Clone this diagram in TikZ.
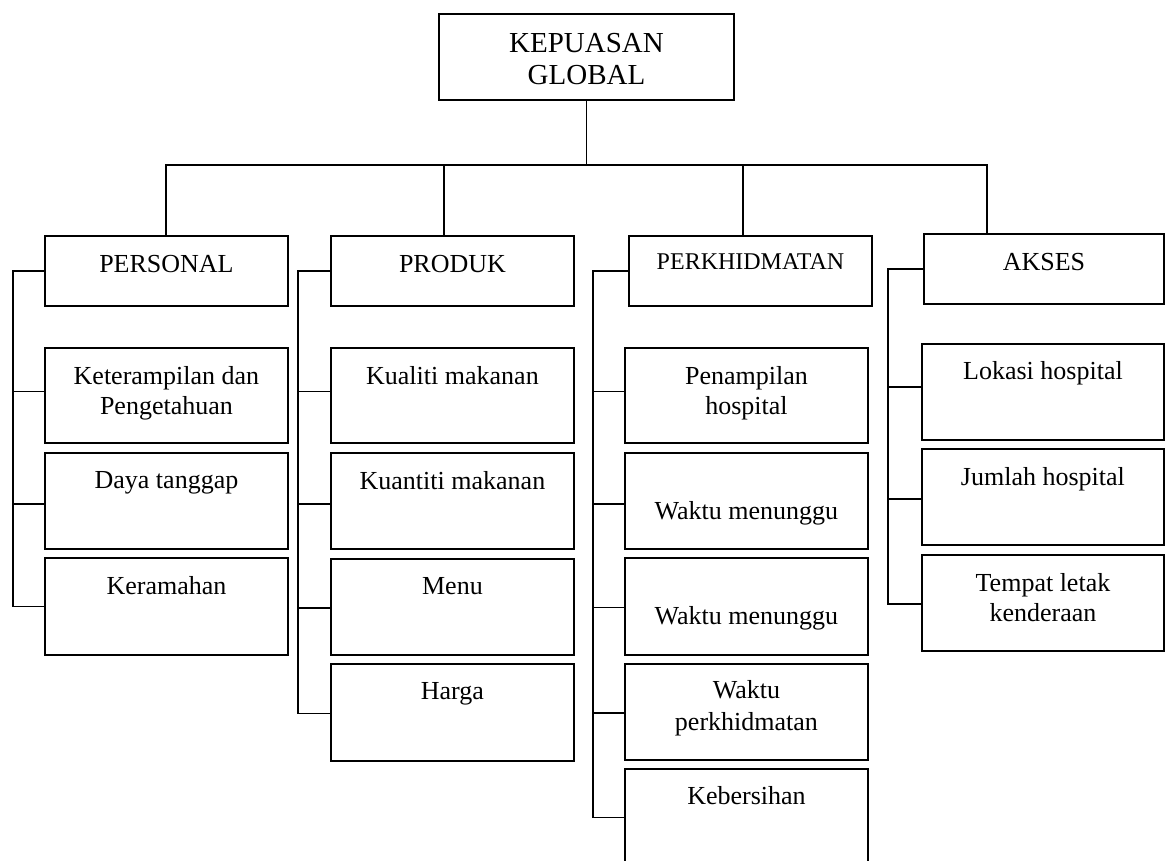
\documentclass[tikz,border=0pt]{standalone}
\usepackage{fontspec}
\setmainfont{Liberation Serif}
\begin{document}
\begin{tikzpicture}[x=1pt,y=-1pt,line width=1.9pt,
  box/.style={draw,rectangle,inner sep=0pt,anchor=north west,minimum width=243pt,minimum height=96pt},
  hdr/.style={box,minimum height=70pt},
  lbl/.style={anchor=north,inner sep=0pt,align=center,font=\fontsize{26}{30}\selectfont},
  wire/.style={line width=1.9pt,line cap=rect}]
\useasboundingbox (0,0) rectangle (1165,860);
\clip (0,0) rectangle (1165,860);

% root
\node[box,minimum width=295pt,minimum height=86pt] (top) at (438,13) {};
\node[lbl,font=\fontsize{29}{32}\selectfont] (t-top) at ([yshift=-19pt]top.north) {KEPUASAN\\GLOBAL};

% category boxes
\node[hdr] (personal) at (44,235) {};
\node[hdr] (produk) at (330,235) {};
\node[hdr] (perkh) at (628,235) {};
\node[hdr,minimum width=240pt] (akses) at (923,233) {};
\node[lbl] (t-personal) at ([yshift=-19.5pt]personal.north) {PERSONAL};
\node[lbl] (t-produk) at ([yshift=-19.5pt]produk.north) {PRODUK};
\node[lbl,font=\fontsize{24}{28}\selectfont] (t-perkh) at ([yshift=-18pt]perkh.north) {PERKHIDMATAN};
\node[lbl] (t-akses) at ([yshift=-19.5pt]akses.north) {AKSES};

% PERSONAL items
\node[box,minimum height=95pt] (p1) at (44,347) {};
\node[box] (p2) at (44,452) {};
\node[box,minimum height=97pt] (p3) at (44,557) {};
\node[lbl] (t-p1) at ([yshift=-18.5pt]p1.north) {Keterampilan dan\\Pengetahuan};
\node[lbl] (t-p2) at ([yshift=-18.5pt]p2.north) {Daya tanggap};
\node[lbl] (t-p3) at ([yshift=-18.5pt]p3.north) {Keramahan};

% PRODUK items
\node[box,minimum height=95pt] (q1) at (330,347) {};
\node[box] (q2) at (330,452) {};
\node[box] (q3) at (330,558) {};
\node[box,minimum height=97pt] (q4) at (330,663) {};
\node[lbl] (t-q1) at ([yshift=-18.5pt]q1.north) {Kualiti makanan};
\node[lbl] (t-q2) at ([yshift=-18.5pt]q2.north) {Kuantiti makanan};
\node[lbl] (t-q3) at ([yshift=-18.5pt]q3.north) {Menu};
\node[lbl] (t-q4) at ([yshift=-18.5pt]q4.north) {Harga};

% PERKHIDMATAN items
\node[box,minimum height=95pt] (r1) at (624,347) {};
\node[box] (r2) at (624,452) {};
\node[box,minimum height=97pt] (r3) at (624,557) {};
\node[box] (r4) at (624,663) {};
\node[box,minimum height=97pt] (r5) at (624,768) {};
\node[lbl] (t-r1) at ([yshift=-18.5pt]r1.north) {Penampilan\\hospital};
\node[lbl] (t-r2) at ([yshift=-49pt]r2.north) {Waktu menunggu};
\node[lbl] (t-r3) at ([yshift=-49pt]r3.north) {Waktu menunggu};
\node[lbl,font=\fontsize{26}{32}\selectfont] (t-r4) at ([yshift=-16.5pt]r4.north) {Waktu\\perkhidmatan};
\node[lbl] (t-r5) at ([yshift=-17.5pt]r5.north) {Kebersihan};

% AKSES items
\node[box,minimum width=242pt] (s1) at (921,343) {};
\node[box,minimum width=242pt] (s2) at (921,448) {};
\node[box,minimum width=242pt] (s3) at (921,554) {};
\node[lbl] (t-s1) at ([yshift=-17.5pt]s1.north) {Lokasi hospital};
\node[lbl] (t-s2) at ([yshift=-18.5pt]s2.north) {Jumlah hospital};
\node[lbl] (t-s3) at ([yshift=-18.5pt]s3.north) {Tempat letak\\kenderaan};

% root to categories
\coordinate (busL) at (166,165);
\coordinate (busR) at (987,165);
\coordinate (dropQ) at (444,165);
\coordinate (dropR) at (743,165);
\draw[wire] (top.south) -- (top.south |- busL);
\draw[wire] (busL |- personal.north) -- (busL) -- (busR) -- (busR |- akses.north);
\draw[wire] (dropQ) -- (dropQ |- produk.north);
\draw[wire] (dropR) -- (dropR |- perkh.north);

% PERSONAL branch
\draw[wire] (personal.west) -- ++(-31,0) |- (p3.west);
\draw[wire] ([yshift=4pt]p1.west) -- ++(-31,0);
\draw[wire] ([yshift=-3pt]p2.west) -- ++(-31,0);

% PRODUK branch
\draw[wire] (produk.west) -- ++(-32,0) |- ([yshift=-1pt]q4.west);
\draw[wire] ([yshift=4pt]q1.west) -- ++(-32,0);
\draw[wire] ([yshift=-3pt]q2.west) -- ++(-32,0);
\draw[wire] ([yshift=-1pt]q3.west) -- ++(-32,0);

% PERKHIDMATAN branch
\draw[wire] (perkh.west) -- ++(-35,0) |- (r5.west);
\draw[wire] ([yshift=4pt]r1.west) -- ++(-31,0);
\draw[wire] ([yshift=-3pt]r2.west) -- ++(-31,0);
\draw[wire] ([yshift=-1pt]r3.west) -- ++(-31,0);
\draw[wire] ([yshift=-1pt]r4.west) -- ++(-31,0);

% AKSES branch
\draw[wire] (akses.west) -- ++(-35,0) |- ([yshift=-1pt]s3.west);
\draw[wire] ([yshift=5pt]s1.west) -- ++(-33,0);
\draw[wire] ([yshift=-2pt]s2.west) -- ++(-33,0);
\end{tikzpicture}
\end{document}
